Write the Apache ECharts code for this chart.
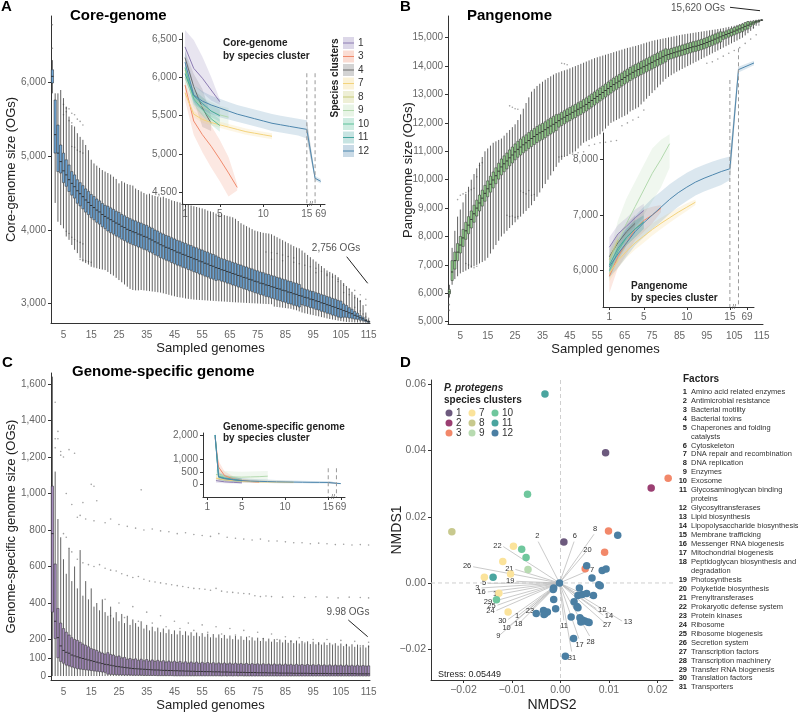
<!DOCTYPE html>
<html>
<head>
<meta charset="utf-8">
<title>P. protegens pangenome</title>
<script src="https://cdn.jsdelivr.net/npm/echarts@6/dist/echarts.min.js"></script>
<style>
  html, body { margin: 0; padding: 0; background: #fff; }
  #chart { width: 798px; height: 713px; }
</style>
</head>
<body>
<div id="chart"></div>
<script>
// ---------- categories ----------
const genomes = [];
for (let g = 1; g <= 115; g++) genomes.push(String(g));

// ---------- A: core-genome boxes (genomes 1..115) ----------
const medA = [
  6080,5290,5040,4925,4800,4745,4680,4630,4585,4530,
  4490,4450,4405,4372,4330,4302,4268,4243,4208,4182,
  4160,4138,4117,4093,4076,4049,4031,4008,3992,3974,
  3962,3943,3931,3912,3901,3878,3862,3838,3822,3799,
  3783,3764,3752,3733,3717,3698,3687,3668,3657,3638,
  3627,3608,3597,3578,3567,3548,3537,3518,3507,3488,
  3477,3460,3451,3434,3425,3408,3399,3382,3373,3356,
  3347,3330,3321,3304,3295,3278,3270,3254,3246,3230,
  3222,3206,3198,3182,3174,3158,3150,3134,3126,3110,
  3102,3086,3078,3062,3054,3038,3029,3012,3003,2986,
  2977,2960,2951,2934,2924,2906,2895,2876,2864,2843,
  2830,2808,2794,2772,2756];
const q1A = [
  5990,5040,4790,4770,4640,4590,4520,4470,4430,4360,
  4325,4285,4240,4207,4165,4137,4103,4078,4043,4017,
  3985,3963,3942,3918,3901,3874,3856,3833,3817,3799,
  3787,3768,3756,3737,3726,3703,3687,3663,3647,3624,
  3608,3589,3577,3558,3542,3523,3512,3493,3482,3463,
  3452,3433,3422,3403,3392,3373,3362,3343,3332,3313,
  3322,3305,3296,3279,3270,3253,3244,3227,3218,3201,
  3192,3175,3166,3149,3140,3123,3115,3099,3091,3075,
  3067,3051,3043,3027,3019,3003,2995,2979,2971,2955,
  2987,2971,2963,2947,2939,2923,2914,2897,2888,2871,
  2862,2845,2836,2819,2809,2816,2815,2806,2802,2791,
  2788,2776,2770,2756,2746];
const q3A = [
  6170,5760,5420,5150,5040,4950,4880,4790,4745,4680,
  4640,4600,4555,4522,4480,4452,4418,4393,4358,4332,
  4320,4298,4277,4253,4236,4209,4191,4168,4152,4134,
  4122,4103,4091,4072,4061,4038,4022,3998,3982,3959,
  3943,3924,3912,3893,3877,3858,3847,3828,3817,3798,
  3787,3768,3757,3738,3727,3708,3697,3678,3667,3648,
  3627,3610,3601,3584,3575,3558,3549,3532,3523,3506,
  3497,3480,3471,3454,3445,3428,3420,3404,3396,3380,
  3372,3356,3348,3332,3324,3308,3300,3284,3276,3260,
  3212,3196,3188,3172,3164,3148,3139,3122,3113,3096,
  3087,3070,3061,3044,3034,2996,2975,2946,2924,2893,
  2870,2838,2816,2786,2764];
const loA = [
  5850,4365,4110,4065,4020,3910,3865,3795,3730,3685,
  3620,3570,3550,3530,3500,3490,3480,3470,3462,3455,
  3430,3400,3380,3350,3320,3290,3260,3230,3200,3185,
  3180,3180,3185,3180,3175,3170,3165,3160,3155,3150,
  3140,3130,3120,3110,3100,3090,3085,3080,3070,3065,
  3060,3055,3052,3050,3048,3045,3042,3040,3038,3035,
  3032,3030,3028,3025,3022,3020,3018,3016,3014,3012,
  3010,3008,3006,3004,3002,3000,2998,2996,2994,2992,
  2960,2955,2950,2945,2940,2935,2930,2920,2910,2895,
  2880,2870,2862,2852,2845,2836,2828,2818,2810,2800,
  2792,2785,2778,2770,2764,2758,2752,2750,2748,2746,
  2745,2744,2743,2742,2741];
const hiA = [
  6300,5850,5850,5895,5785,5670,5535,5420,5400,5310,
  5260,5220,5150,5080,4950,4900,4870,4840,4810,4790,
  4770,4750,4720,4690,4630,4660,4640,4620,4610,4600,
  4560,4540,4520,4500,4480,4490,4470,4460,4450,4440,
  4450,4430,4420,4400,4390,4380,4370,4360,4350,4340,
  4330,4320,4310,4300,4290,4280,4260,4250,4240,4220,
  4220,4210,4200,4190,4180,4170,4150,4120,4090,4070,
  4050,4030,4010,3990,3980,3970,3960,3955,3950,3940,
  3920,3900,3880,3860,3840,3820,3800,3780,3760,3750,
  3720,3690,3660,3630,3600,3570,3540,3510,3480,3450,
  3430,3410,3390,3360,3320,3280,3240,3200,3160,3120,
  3080,3050,2980,2880,2790];
const outA = [
  [1,6780],[1,6460],[5,5700],[5,5560],[6,5650],[6,5600],[7,5640],[7,5480],[8,5580],[8,5450],
  [9,5560],[10,5500],[11,5470],[12,5420],[8,5130],[9,5120],[10,5080],[11,5060],[12,5040],
  [6,3980],[7,3950],[8,3900],[9,3870],[10,3850],[11,3830],[12,3810],[11,3600],[12,3590],
  [13,3580],[14,3570],[15,3560],[78,3700],[80,3690],[82,3680],[84,3660],[86,3640],[88,3620],
  [80,3600],[84,3580],[88,3560],[90,3540],[92,3520],[94,3500],[96,3480],[98,3440],[100,3400],
  [102,3360],[104,3330],[96,3420],[100,3380],[104,3300],[106,3250],[108,3200],[110,3180],
  [112,3120],[114,3060],[106,3150],[108,3120],[110,3080],[112,3030],[114,2980],[110,2950],
  [112,2900],[113,2860],[114,2820],[115,2800]];

// ---------- B: pangenome boxes ----------
const medB = [
  6050,6750,7150,7450,7700,7950,8200,8400,8600,8800,
  9000,9180,9350,9520,9680,9840,9990,10140,10300,10450,
  10560,10660,10770,10870,10980,11070,11150,11230,11300,11380,
  11450,11520,11590,11650,11700,11760,11830,11890,11950,12010,
  12080,12140,12200,12260,12310,12370,12420,12480,12530,12590,
  12650,12720,12790,12860,12930,13000,13070,13140,13210,13280,
  13350,13410,13470,13530,13600,13660,13720,13780,13830,13880,
  13930,13980,14030,14080,14130,14180,14230,14280,14330,14380,
  14410,14440,14470,14500,14530,14560,14590,14620,14650,14680,
  14700,14730,14760,14790,14830,14870,14910,14950,14990,15030,
  15070,15110,15150,15190,15230,15270,15310,15350,15400,15440,
  15480,15520,15560,15590,15620];
const q1B = [
  5980,6450,6850,7150,7420,7650,7900,8100,8300,8500,
  8720,8900,9070,9240,9400,9560,9710,9860,10020,10170,
  10280,10380,10490,10590,10700,10790,10870,10950,11020,11100,
  11170,11240,11310,11370,11420,11480,11550,11610,11670,11730,
  11850,11910,11970,12030,12080,12140,12190,12250,12300,12360,
  12420,12490,12560,12630,12700,12770,12840,12910,12980,13050,
  13120,13180,13240,13300,13370,13430,13490,13550,13600,13650,
  13700,13750,13800,13850,13900,13950,14000,14050,14100,14150,
  14230,14260,14290,14320,14350,14380,14410,14440,14470,14500,
  14520,14550,14580,14610,14650,14690,14730,14770,14810,14850,
  14940,14980,15020,15060,15100,15140,15180,15220,15270,15310,
  15400,15460,15520,15565,15610];
const q3B = [
  6130,7150,7450,7750,8000,8250,8500,8700,8900,9100,
  9280,9460,9630,9800,9960,10120,10270,10420,10580,10730,
  10840,10940,11050,11150,11260,11350,11430,11510,11580,11660,
  11730,11800,11870,11930,11980,12040,12110,12170,12230,12290,
  12310,12370,12430,12490,12540,12600,12650,12710,12760,12820,
  12880,12950,13020,13090,13160,13230,13300,13370,13440,13510,
  13580,13640,13700,13760,13830,13890,13950,14010,14060,14110,
  14160,14210,14260,14310,14360,14410,14460,14510,14560,14610,
  14590,14620,14650,14680,14710,14740,14770,14800,14830,14860,
  14880,14910,14940,14970,15010,15050,15090,15130,15170,15210,
  15200,15240,15280,15320,15360,15400,15440,15480,15530,15570,
  15560,15580,15600,15615,15630];
const loB = [
  5850,6300,6500,6600,6700,6750,6800,6850,6900,6950,
  7000,7050,7100,7150,7250,7400,7550,7700,7850,8000,
  8100,8200,8300,8400,8500,8600,8700,8800,8900,9000,
  9100,9250,9400,9550,9700,9850,10000,10150,10300,10450,
  10600,10700,10800,10850,10900,10950,11000,11100,11200,11300,
  11350,11400,11450,11500,11550,11600,11700,11800,11900,12000,
  12050,12100,12150,12200,12250,12300,12400,12450,12500,12550,
  12650,12750,12850,12950,13050,13150,13250,13350,13450,13550,
  13620,13680,13740,13800,13850,13900,13950,14000,14050,14100,
  14150,14200,14250,14300,14350,14400,14450,14500,14550,14600,
  14650,14700,14750,14800,14850,14900,14950,15000,15080,15160,
  15240,15320,15420,15500,15590];
const hiB = [
  6300,7600,8200,8700,8950,9200,9500,9750,10000,10200,
  10400,10600,10800,11000,11100,11200,11300,11350,11400,11450,
  11550,11650,11750,11850,11950,12100,12300,12500,12700,12900,
  13100,13200,13300,13380,13450,13520,13580,13640,13700,13750,
  13780,13820,13850,13880,13920,13960,14000,14040,14080,14120,
  14160,14200,14240,14280,14310,14340,14370,14400,14430,14460,
  14490,14520,14550,14580,14610,14640,14660,14690,14710,14740,
  14770,14800,14830,14860,14890,14910,14930,14950,14970,14990,
  15010,15030,15050,15070,15090,15110,15125,15140,15155,15170,
  15185,15200,15215,15230,15245,15260,15275,15290,15305,15320,
  15340,15360,15380,15400,15420,15450,15480,15510,15550,15580,
  15600,15615,15630,15640,15650];
const outB = [
  [1,5600],[1,5400],[4,9300],[5,9450],[6,9500],[7,9550],[8,9600],[9,9650],[10,9700],
  [11,10100],[12,10500],[13,10600],[7,7050],[8,7000],[9,6950],[10,6900],[11,6950],
  [22,8750],[23,8700],[24,8720],[25,8680],[26,8700],[27,9600],[28,9550],[29,9500],[30,9620],
  [31,9450],[32,9480],[23,12600],[24,12550],[25,12500],[26,12480],[41,10800],[42,10820],
  [44,10850],[46,10900],[48,10950],[50,10980],[52,11200],[54,11250],[56,11300],[58,11320],
  [60,11350],[62,11380],[64,11900],[66,12000],[68,12100],[70,12200],[72,12450],[42,14100],
  [43,14080],[44,14050],[95,14100],[97,14150],[99,14250],[101,14350],[103,14450],[105,14550],
  [107,14650],[109,14800],[111,14950],[113,15100],[100,15000],[104,15100],[108,15200],
  [112,15350],[114,15450]];

// ---------- C: genome-specific boxes ----------
const medC = [
  780,300,210,165,140,130,125,115,110,105,
  100,96,92,88,84,80,76,72,68,64,
  62,59,56,53,51,49,47,45,43,41,
  40,39,38,37,36,35,34,33,33,32,
  31,31,30,30,29,29,28,28,27,27,
  26,26,25,25,25,24,24,24,23,23,
  23,22,22,22,21,21,21,20,20,20,
  19,19,19,19,18,18,18,18,17,17,
  17,17,16,16,16,16,16,15,15,15,
  15,15,15,14,14,14,14,14,14,14,
  13,13,13,13,13,13,13,13,13,13,
  12,12,12,12,12];
const q1C = [
  350,205,100,80,70,60,55,50,45,40,
  38,36,34,32,30,28,26,24,22,20,
  10,9,8,7,6,6,5,5,5,4,
  4,4,4,3,3,3,3,3,2,2,
  2,2,2,2,1,1,1,1,1,1,
  1,1,1,1,1,1,1,1,1,1,
  1,0,1,0,1,0,1,0,1,0,
  0,0,0,0,0,0,0,0,0,0,
  0,0,0,0,0,0,0,0,0,0,
  0,0,0,0,0,0,0,0,0,0,
  0,0,0,0,0,0,0,0,0,0,
  0,0,0,0,0];
const q3C = [
  1040,614,370,290,260,240,225,210,200,195,
  185,175,168,160,150,145,140,132,126,120,
  128,118,115,106,110,100,102,92,96,90,
  94,86,92,84,90,82,88,80,86,79,
  84,77,82,76,81,74,80,72,78,71,
  77,70,76,69,75,68,74,68,73,67,
  72,67,71,66,71,65,70,65,69,64,
  69,63,68,63,67,62,67,62,66,61,
  66,61,65,60,65,60,64,59,64,59,
  63,58,63,58,62,57,62,57,61,56,
  61,56,60,56,60,55,60,55,59,54,
  59,54,58,54,56];
const loC = [
  0,0,0,0,0,0,0,0,0,0, 0,0,0,0,0,0,0,0,0,0,
  0,0,0,0,0,0,0,0,0,0, 0,0,0,0,0,0,0,0,0,0,
  0,0,0,0,0,0,0,0,0,0, 0,0,0,0,0,0,0,0,0,0,
  0,0,0,0,0,0,0,0,0,0, 0,0,0,0,0,0,0,0,0,0,
  0,0,0,0,0,0,0,0,0,0, 0,0,0,0,0,0,0,0,0,0,
  0,0,0,0,0,0,0,0,0,0, 0,0,0,0,0];
const hiC = [
  1640,1120,860,760,640,560,700,520,600,480,
  690,440,520,420,480,380,400,360,420,350,
  330,380,320,350,300,340,290,330,280,310,
  290,270,300,260,280,250,270,245,265,240,
  260,235,255,230,250,228,248,225,245,222,
  240,220,238,218,235,215,232,212,230,210,
  228,208,225,205,222,202,220,200,218,198,
  215,196,212,194,210,192,208,190,205,188,
  202,186,200,184,198,182,196,180,194,178,
  192,176,190,175,188,174,186,172,184,170,
  182,168,180,166,178,164,176,162,174,160,
  172,158,170,156,168];
const outC = [
  [2,1500],[2,1300],[2,1250],[3,1340],[3,1300],[4,1210],[4,1230],[5,1200],[6,1000],[7,1240],
  [8,940],[9,1220],[12,950],[15,1050],[16,1040],[17,960],[33,1020],[11,880],
  [10,870],[13,860],[16,850],[20,840],[22,860],[25,830],[28,820],[31,810],[34,800],[37,805],
  [40,795],[43,790],[46,780],[49,785],[52,775],[55,770],[58,765],[61,780],[64,760],[67,755],
  [70,750],[73,745],[76,750],[79,740],[82,740],[85,735],[88,730],[91,730],[94,725],[97,728],
  [100,725],[103,720],[106,722],[109,718],[112,720],[115,718],
  [5,780],[6,760],[7,700],[8,680],[10,640],[12,620],[14,610],[16,600],[18,610],[20,590],
  [22,580],[24,575],[26,560],[28,550],[30,540],[32,545],[34,530],[36,520],[38,515],[40,510],
  [42,505],[44,500],[46,495],[48,490],[50,485],[52,480],[54,478],[56,475],[58,470],[60,480],
  [62,465],[64,460],[66,458],[68,455],[70,452],[72,450],[74,440],[76,435],[78,438],[80,435],
  [84,432],[88,436],[92,430],[96,434],[100,432],[104,428],[108,432],[112,430],[115,428],
  [20,420],[25,400],[30,380],[35,350],[40,330],[45,300],[50,290],[55,280],[60,270],[65,260],
  [70,250],[75,240],[80,230],[85,215],[90,210],[95,200],[100,200],[105,195],[110,190],[115,185],
  [22,330],[27,320],[32,300],[37,290],[42,270],[47,260],[52,250],[57,240],[62,230],[67,225],
  [72,215],[77,205],[82,200],[87,190],[92,180],[97,175],[102,170],[107,168],[112,165],[115,160]];

// ---------- insets: [x, mean, low, high]; x beyond the break = 69 genomes ----------
const coreC1 = [[1,6400,6150,6620],[2,6120,5900,6490],[3,5990,5800,6270],[4,5836,5700,6010],[5,5683,5640,5710]];
const coreC3 = [[1,5900,5700,5950],[2,5430,5250,5650],[3,5250,5020,5520],[4,5100,4820,5370],[5,4930,4640,5180],[6,4750,4440,4960],[7,4560,4520,4600]];
const coreC4 = [[1,6260,6150,6350],[2,5880,5700,6050],[3,5600,5350,5850],[4,5400,5300,5500]];
const coreC7 = [[1,5800,5760,5840],[2,5520,5480,5560],[3,5450,5410,5490],[4,5410,5370,5450],[5,5380,5340,5420],[6,5350,5310,5390],[7,5320,5280,5360],[8,5290,5250,5330],[9,5270,5230,5310],[10,5250,5210,5290],[11,5230,5190,5270]];
const coreC8 = [[1,6100,6040,6160],[2,5750,5690,5810]];
const coreC9 = [[1,6000,5880,6120],[2,5720,5600,5840],[3,5620,5500,5740],[4,5560,5440,5680],[5,5510,5390,5630],[6,5480,5360,5600]];
const coreC10 = [[1,6130,6050,6210],[2,5720,5640,5800],[3,5580,5500,5660],[4,5460,5380,5540],[5,5370,5290,5450]];
const coreC11 = [[1,6050,5970,6130],[2,5760,5680,5840],[3,5660,5580,5740],[4,5560,5480,5640],[5,5500,5420,5580]];
const coreC12 = [[1,6200,6000,6350],[2,5770,5650,5900],[3,5690,5570,5820],[4,5640,5520,5760],[5,5600,5480,5720],[6,5560,5450,5680],[7,5520,5420,5640],[8,5490,5390,5610],[9,5460,5360,5580],[10,5430,5330,5550],[11,5400,5300,5520],[12,5380,5280,5500],[13,5360,5260,5480],[14,5340,5240,5460],[15,5320,5200,5440]];
const coreTail = [[15.95,4680,4650,4710],[16.6,4640,4610,4670]];
const coreBreak = [[15,5320,5200,5440],[15.95,4680,4650,4710]];

const panC1 = [[1,6420,6250,6600],[2,6660,6500,6820],[3,6800,6650,6950],[4,6950,6800,7100],[5,7080,6950,7200]];
const panC3 = [[1,5900,5600,6100],[2,6250,6050,6450],[3,6500,6300,6700],[4,6750,6550,6950],[5,6900,6700,7100],[6,7000,6850,7150],[7,7120,7050,7180]];
const panC4 = [[1,6250,6100,6400],[2,6500,6350,6650],[3,6700,6550,6850],[4,6850,6700,7000]];
const panC7 = [[1,5950,5800,6100],[2,6180,6050,6300],[3,6350,6230,6470],[4,6500,6380,6620],[5,6620,6500,6740],[6,6740,6630,6850],[7,6850,6750,6950],[8,6950,6860,7040],[9,7050,6970,7130],[10,7140,7070,7210],[11,7230,7180,7280]];
const panC8 = [[1,6200,6100,6300],[2,6550,6450,6650]];
const panC9 = [[1,6100,5900,6300],[2,6500,6150,6900],[3,6850,6450,7300],[4,7150,6750,7600],[5,7450,7000,7900],[6,7750,7250,8200],[7,8000,7500,8350],[8,8280,7850,8450]];
const panC10 = [[1,6000,5850,6150],[2,6350,6200,6500],[3,6600,6450,6750],[4,6750,6600,6900],[5,6880,6750,7000]];
const panC11 = [[1,6100,5950,6250],[2,6400,6250,6550],[3,6600,6450,6750],[4,6750,6600,6900],[5,6870,6750,6990]];
const panC12 = [[1,6070,5880,6250],[2,6300,6050,6550],[3,6500,6250,6780],[4,6700,6450,6980],[5,6860,6600,7150],[6,7000,6750,7300],[7,7140,6880,7420],[8,7280,7020,7550],[9,7400,7150,7660],[10,7500,7250,7760],[11,7590,7350,7840],[12,7660,7420,7900],[13,7720,7480,7960],[14,7780,7540,8010],[15,7830,7630,8050]];
const panTail = [[16.0,9610,9560,9660],[17.8,9730,9690,9770]];
const panBreak = [[15,7830,7630,8050],[16.0,9610,9480,9740]];

const specC1 = [[2,150,60,260],[3,100,40,180],[4,80,30,150],[5,60,20,120]];
const specC3 = [[1.9,1900,1800,2000],[2.3,700,450,950],[3,350,200,520],[4,220,120,330],[5,150,80,230],[6,110,60,170],[7,90,50,140]];
const specC7 = [[2,250,150,380],[3,180,100,280],[4,150,80,240],[5,130,70,210],[6,115,60,190],[7,100,50,170],[8,95,50,160],[9,90,50,150],[10,85,45,140],[11,80,40,130]];
const specC9 = [[2,400,200,600],[3,330,150,550],[4,300,130,520],[5,290,120,510],[6,300,120,520],[7,310,130,530],[8,330,150,540]];
const specC10 = [[1.9,2000,1900,2080],[2.3,330,200,500],[3,260,150,400],[4,200,110,320],[5,140,80,230]];
const specC11 = [[1.9,2000,1900,2080],[2.3,300,180,450],[3,240,140,360],[4,190,100,300],[5,150,80,240]];
const specC12 = [[1.9,2000,1900,2080],[2.3,300,150,450],[3,230,120,360],[4,180,90,300],[5,150,70,260],[6,130,60,230],[7,120,55,210],[8,110,50,190],[9,100,45,170],[10,95,40,160],[11,90,40,150],[12,85,40,140],[13,80,35,130],[14,78,35,125],[15,75,30,120]];
const specTail = [[15.95,40,10,70],[16.45,30,5,55]];
const specBreak = [[15,75,30,120],[15.95,40,10,70]];

// ---------- D: NMDS ----------
const nmdsPoints = [
  [0.0093,0.0393,'1'],[0.0007,0.0124,'1'],
  [0.0187,0.0287,'2'],
  [0.0222,0.0316,'3'],[0.0099,0.0157,'3'],[0.0091,0.0093,'3'],[0.0051,0.0043,'3'],
  [-0.0097,0.0111,'7'],[-0.0119,0.0065,'7'],[-0.0103,0.0027,'7'],[-0.0157,0.0017,'7'],[-0.0127,-0.0031,'7'],[-0.0108,-0.0088,'7'],
  [-0.0224,0.0155,'8'],
  [-0.0067,0.0041,'9'],
  [-0.0068,0.0268,'10'],[-0.0080,0.0102,'10'],[-0.0071,0.0077,'10'],[-0.0132,-0.0051,'10'],
  [-0.0032,0.0571,'11'],[-0.0139,0.0017,'11'],
  [0.0118,0.0144,'12'],[0.0054,0.0052,'12'],[0.0086,0.0038,'12'],[0.0094,0.0042,'12'],[0.0065,0.0015,'12'],
  [-0.0002,0.0,'12'],[0.0079,-0.0005,'12'],[0.0082,-0.0008,'12'],[-0.0014,-0.0015,'12'],[-0.0015,-0.0020,'12'],
  [0.0039,-0.0015,'12'],[0.0036,-0.0038,'12'],[0.0045,-0.0035,'12'],[0.0054,-0.0032,'12'],[0.0068,-0.0038,'12'],
  [-0.0014,-0.0050,'12'],[0.0028,-0.0057,'12'],[0.0034,-0.0071,'12'],[0.0036,-0.0075,'12'],[-0.0010,-0.0078,'12'],
  [-0.0035,-0.0083,'12'],[-0.0032,-0.0093,'12'],[-0.0027,-0.0088,'12'],[-0.0034,-0.0095,'12'],[-0.0050,-0.0092,'12'],
  [0.0022,-0.0103,'12'],[0.0040,-0.0105,'12'],[0.0045,-0.0112,'12'],[0.0050,-0.0115,'12'],[0.0056,-0.0118,'12'],
  [0.0059,-0.0119,'12'],[0.0042,-0.0118,'12'],[0.0027,-0.0168,'12'],[0.0010,-0.0221,'12']];
const vectorOrigin = [-0.0002, 0];
const vectorEnds = [
  ['1',-0.0086,-0.0097],['2',-0.0046,0.0125],['3',-0.0163,-0.0015],['4',0.0056,-0.0040],
  ['5',-0.0149,-0.0001],['6',0.0028,0.0125],['7',0.0057,0.0037],['8',0.0069,0.0147],
  ['9',-0.0125,-0.0157],['10',-0.0108,-0.0133],['11',0.0007,-0.0113],['12',0.0074,-0.0078],
  ['13',0.0127,-0.0115],['14',0.0088,-0.0097],['15',-0.0118,-0.0032],['16',-0.0150,-0.0027],
  ['17',0.0038,-0.0168],['18',-0.0084,-0.0120],['19',-0.0091,0.0005],['20',0.0053,0.0095],
  ['21',-0.0093,0.0041],['22',-0.0118,0.0110],['23',-0.0060,-0.0080],['24',-0.0132,-0.0083],
  ['25',-0.0130,-0.0067],['26',-0.0180,0.0049],['27',0.0093,-0.0123],['28',0.0060,-0.0160],
  ['29',-0.0137,-0.0055],['30',-0.0108,-0.0110],['31',0.0023,-0.0207]];
const factorNames = [
  'Amino acid related enzymes','Antimicrobial resistance','Bacterial motility','Bacterial toxins',
  'Chaperones and folding\ncatalysts','Cytoskeleton','DNA repair and recombination','DNA replication',
  'Enzymes','Exosome','Glycosaminoglycan binding\nproteins','Glycosyltransferases','Lipid biosynthesis',
  'Lipopolysaccharide biosynthesis','Membrane trafficking','Messenger RNA biogenesis',
  'Mitochondrial biogenesis','Peptidoglycan biosynthesis and\ndegradation','Photosynthesis',
  'Polyketide biosynthesis','Prenyltransferases','Prokaryotic defense system','Protein kinases',
  'Ribosome','Ribosome biogenesis','Secretion system','Transcription factors',
  'Transcription machinery','Transfer RNA biogenesis','Translation factors','Transporters'];

const clusterIds = ['1','2','3','7','8','9','10','11','12'];
const clusterColors = {
  '1':'#6d5a7e','2':'#9b3f72','3':'#f2886a','4':'#7a7a7a','7':'#fbe39b','8':'#c8c98e',
  '9':'#b8dbb1','10':'#6fc79d','11':'#4aa59f','12':'#4b7fa3'};
const insetLine = {
  '1':'#8c7cb3','3':'#f08a6c','4':'#6e6e6e','7':'#f3d37c','8':'#c6cb78',
  '9':'#b2d9ad','10':'#5cc09a','11':'#45a6a0','12':'#4d86ad'};

// ---------- helpers ----------
const FONT = '"Liberation Sans", Arial, Helvetica, sans-serif';
const AX = '#333';
const LBL = '#666';
const fmtK = v => Math.round(v).toLocaleString('en-US');
const fmtD = v => (v < 0 ? '\u2212' : '') + Math.abs(v).toFixed(2);

function catAxis(gi, name) {
  return {
    type: 'category', gridIndex: gi, data: genomes, boundaryGap: true,
    name: name, nameLocation: 'middle', nameGap: 19, nameMoveOverlap: false,
    nameTextStyle: { fontSize: 13, color: '#222' },
    axisLine: { onZero: false, lineStyle: { color: AX } },
    axisTick: { alignWithLabel: true, interval: (i) => (i + 1) % 5 === 0, length: 3, lineStyle: { color: AX } },
    axisLabel: { interval: (i) => (i + 1) % 10 === 5, fontSize: 10, color: LBL, margin: 7 },
    splitLine: { show: false }
  };
}
function valAxis(gi, min, max, ticks, fmt, name, gap, fs) {
  return {
    type: 'value', gridIndex: gi, min: min, max: max,
    name: name || '', nameLocation: 'middle', nameGap: gap || 30, nameMoveOverlap: false,
    nameTextStyle: { fontSize: 13, color: '#222' },
    axisLine: { show: true, onZero: false, lineStyle: { color: AX } },
    axisTick: { show: true, customValues: ticks, length: 3, lineStyle: { color: AX } },
    axisLabel: { customValues: ticks, formatter: fmt, fontSize: fs || 10, color: LBL, margin: 5 },
    splitLine: { show: false }
  };
}
function insetX(gi, min, max, pos69) {
  const t = [1, 5, 10, 15, pos69];
  return {
    type: 'value', gridIndex: gi, min: min, max: max,
    axisLine: { onZero: false, lineStyle: { color: AX } },
    axisTick: { customValues: t, length: 3, lineStyle: { color: AX } },
    axisLabel: { customValues: t, formatter: v => (v > 15.5 ? '69' : String(v)), fontSize: 10, color: LBL, margin: 5 },
    splitLine: { show: false }
  };
}
// box series drawn through the axes: [genome, low, q1, median, q3, high]
function boxSeries(ai, lo, q1, med, q3, hi, fill) {
  return {
    type: 'custom', xAxisIndex: ai, yAxisIndex: ai, silent: true, z: 2,
    data: med.map((m, i) => [genomes[i], lo[i], q1[i], m, q3[i], hi[i]]),
    encode: { x: 0, y: [1, 2, 3, 4, 5] },
    renderItem: (params, api) => {
      const x = api.value(0);
      const pLo = api.coord([x, api.value(1)]);
      const pQ1 = api.coord([x, api.value(2)]);
      const pMd = api.coord([x, api.value(3)]);
      const pQ3 = api.coord([x, api.value(4)]);
      const pHi = api.coord([x, api.value(5)]);
      const w = api.size([1, 0])[0] * 0.82;
      const cx = pMd[0];
      const wk = { stroke: '#3a3a3a', lineWidth: 0.8 };
      return { type: 'group', children: [
        { type: 'line', shape: { x1: cx, y1: pHi[1], x2: cx, y2: pQ3[1] }, style: wk },
        { type: 'line', shape: { x1: cx, y1: pQ1[1], x2: cx, y2: pLo[1] }, style: wk },
        { type: 'rect', shape: { x: cx - w / 2, y: pQ3[1], width: w, height: Math.max(0.6, pQ1[1] - pQ3[1]) },
          style: { fill: fill, stroke: '#222', lineWidth: 0.5 } },
        { type: 'line', shape: { x1: cx - w / 2, y1: pMd[1], x2: cx + w / 2, y2: pMd[1] }, style: { stroke: '#1a1a1a', lineWidth: 0.8 } }
      ] };
    }
  };
}
function bandSeries(ai, pts, color, opacity) {
  return {
    type: 'custom', xAxisIndex: ai, yAxisIndex: ai, silent: true, z: 3,
    data: [[pts[0][0], pts[0][1]]],
    renderItem: (params, api) => {
      const top = pts.map(p => api.coord([p[0], p[3]]));
      const bot = pts.slice().reverse().map(p => api.coord([p[0], p[2]]));
      return { type: 'polygon', shape: { points: top.concat(bot) }, style: { fill: color, opacity: opacity } };
    }
  };
}
function meanSeries(ai, pts, color) {
  return {
    type: 'line', xAxisIndex: ai, yAxisIndex: ai, data: pts.map(p => [p[0], p[1]]),
    showSymbol: false, symbol: 'none', clip: false, silent: true, z: 4,
    lineStyle: { color: color, width: 1 }
  };
}
function dashSeries(ai, segs) {
  return {
    type: 'custom', xAxisIndex: ai, yAxisIndex: ai, silent: true, z: 5,
    data: segs, encode: { x: 0, y: [1, 2] },
    renderItem: (params, api) => {
      const a = api.coord([api.value(0), api.value(1)]);
      const b = api.coord([api.value(0), api.value(2)]);
      return { type: 'line', shape: { x1: a[0], y1: a[1], x2: b[0], y2: b[1] },
        style: { stroke: '#9a9a9a', lineWidth: 1, lineDash: [4, 3] } };
    }
  };
}
function insetGroup(ai, list, tail, brk) {
  const out = [];
  list.forEach(([id, pts]) => {
    const data = id === '12' ? pts.concat(tail) : pts;
    out.push(bandSeries(ai, data, insetLine[id], 0.2));
  });
  out.push(bandSeries(ai, brk, '#bdbdbd', 0.6));
  list.forEach(([id, pts]) => {
    const data = id === '12' ? pts.concat(tail) : pts;
    out.push(meanSeries(ai, data, insetLine[id]));
  });
  return out;
}

// ---------- series ----------
const series = [];
const dotSeries = (ai, pts) => ({
  type: 'scatter', xAxisIndex: ai, yAxisIndex: ai, silent: true, z: 1,
  data: pts.map(p => [String(p[0]), p[1]]), symbolSize: 1.6, itemStyle: { color: '#8a8a8a' }
});

series.push(dotSeries(0, outA));
series.push(boxSeries(0, loA, q1A, medA, q3A, hiA, '#6fa6d6'));
series.push(dotSeries(2, outB));
series.push(boxSeries(2, loB, q1B, medB, q3B, hiB, '#93cf8c'));
series.push(dotSeries(4, outC));
series.push(boxSeries(4, loC, q1C, medC, q3C, hiC, '#a58bbd'));

// insets
series.push(...insetGroup(1, [['4', coreC4], ['1', coreC1], ['3', coreC3], ['9', coreC9], ['8', coreC8],
  ['7', coreC7], ['10', coreC10], ['11', coreC11], ['12', coreC12]], coreTail, coreBreak));
series.push(dashSeries(1, [[15, 6055, 4343], [15.95, 6055, 4343]]));
series.push(...insetGroup(3, [['9', panC9], ['4', panC4], ['1', panC1], ['3', panC3], ['8', panC8],
  ['7', panC7], ['10', panC10], ['11', panC11], ['12', panC12]], panTail, panBreak));
series.push(dashSeries(3, [[15, 9424, 5348], [16.0, 9993, 5348]]));
series.push(...insetGroup(5, [['9', specC9], ['1', specC1], ['3', specC3], ['7', specC7],
  ['10', specC10], ['11', specC11], ['12', specC12]], specTail, specBreak));
series.push(dashSeries(5, [[15, 650, -515], [15.95, 650, -515]]));

// D: zero reference lines
series.push({
  type: 'custom', xAxisIndex: 6, yAxisIndex: 6, silent: true, z: 1,
  data: [[0, 0]],
  renderItem: (params, api) => {
    const cs = params.coordSys;
    const o = api.coord([0, 0]);
    const st = { stroke: '#cfcfcf', lineWidth: 1, lineDash: [4, 3] };
    return { type: 'group', children: [
      { type: 'line', shape: { x1: o[0], y1: cs.y, x2: o[0], y2: cs.y + cs.height }, style: st },
      { type: 'line', shape: { x1: cs.x, y1: o[1], x2: cs.x + cs.width, y2: o[1] }, style: st }
    ] };
  }
});
series.push({
  type: 'lines', coordinateSystem: 'cartesian2d', xAxisIndex: 6, yAxisIndex: 6, silent: true, z: 2,
  data: vectorEnds.map(v => ({ name: v[0], coords: [vectorOrigin, [v[1], v[2]]] })),
  lineStyle: { color: '#bdbdbd', width: 0.8, opacity: 1, curveness: 0 },
  label: { show: true, position: 'end', formatter: '{b}', fontSize: 7.5, color: '#333', distance: 2 }
});
clusterIds.forEach(id => {
  series.push({
    type: 'scatter', xAxisIndex: 6, yAxisIndex: 6, silent: true, z: 4,
    data: nmdsPoints.filter(p => p[2] === id).map(p => [p[0], p[1]]),
    symbolSize: 7.5, itemStyle: { color: clusterColors[id], opacity: 1 }
  });
});

// ---------- graphics ----------
const G = [];
const txt = (x, y, text, o) => G.push({ type: 'text', x: x, y: y, z: 50, silent: true,
  style: Object.assign({ text: text, fontFamily: FONT, fontSize: 10, fill: '#222', align: 'left', verticalAlign: 'middle' }, (o || {})) });
const seg = (x1, y1, x2, y2, color) => G.push({ type: 'line', z: 50, silent: true,
  shape: { x1: x1, y1: y1, x2: x2, y2: y2 }, style: { stroke: color || '#222', lineWidth: 1 } });

// panel letters and titles
txt(1, 7, 'A', { fontSize: 15, fontWeight: 'bold', fill: '#000' });
txt(400, 7, 'B', { fontSize: 15, fontWeight: 'bold', fill: '#000' });
txt(2, 363, 'C', { fontSize: 15, fontWeight: 'bold', fill: '#000' });
txt(400, 363, 'D', { fontSize: 15, fontWeight: 'bold', fill: '#000' });
txt(70, 16, 'Core-genome', { fontSize: 15, fontWeight: 'bold', fill: '#000' });
txt(467, 16, 'Pangenome', { fontSize: 15, fontWeight: 'bold', fill: '#000' });
txt(72, 372, 'Genome-specific genome', { fontSize: 15, fontWeight: 'bold', fill: '#000' });

// inset titles
txt(223, 43, 'Core-genome', { fontWeight: 'bold' });
txt(223, 56, 'by species cluster', { fontWeight: 'bold' });
txt(631, 286, 'Pangenome', { fontWeight: 'bold' });
txt(631, 298, 'by species cluster', { fontWeight: 'bold' });
txt(223, 427, 'Genome-specific genome', { fontWeight: 'bold' });
txt(223, 438.5, 'by species cluster', { fontWeight: 'bold' });

// axis break marks
txt(311, 204, '//', { fontSize: 7, fill: '#555', align: 'center' });
txt(734, 307, '//', { fontSize: 7, fill: '#555', align: 'center' });
txt(333, 497, '//', { fontSize: 7, fill: '#555', align: 'center' });

// annotations
txt(336, 248, '2,756 OGs', { fill: '#555', align: 'center' });
seg(346.7, 256.7, 367.7, 283.3);
txt(698, 8, '15,620 OGs', { fill: '#555', align: 'center' });
seg(730, 7.3, 760, 10.7);
txt(348, 612, '9.98 OGs', { fill: '#555', align: 'center' });
seg(348.3, 620, 367.7, 636.7);

// species cluster legend (panel A inset)
G.push({ type: 'text', x: 335, y: 78, rotation: Math.PI / 2, z: 50, silent: true,
  style: { text: 'Species clusters', fontFamily: FONT, fontSize: 10, fontWeight: 'bold', fill: '#222', align: 'center', verticalAlign: 'middle' } });
['1','3','4','7','8','9','10','11','12'].forEach((id, i) => {
  const yc = 43 + i * 13.5;
  G.push({ type: 'rect', z: 50, silent: true, shape: { x: 343, y: yc - 6, width: 11, height: 12 },
    style: { fill: insetLine[id], opacity: 0.3 } });
  seg(343, yc, 354, yc, insetLine[id]);
  txt(358, yc, id, { fill: '#333' });
});

// NMDS legend
txt(444, 388, 'P. protegens', { fontWeight: 'bold', fontStyle: 'italic' });
txt(444, 400, 'species clusters', { fontWeight: 'bold' });
clusterIds.forEach((id, i) => {
  const col = Math.floor(i / 3), row = i % 3;
  const cx = 449 + col * 23, cy = 413 + row * 10;
  G.push({ type: 'circle', z: 50, silent: true, shape: { cx: cx, cy: cy, r: 3.5 }, style: { fill: clusterColors[id] } });
  txt(cx + 7, cy, id, { fill: '#333' });
});
txt(438, 675, 'Stress: 0.05449', { fontSize: 9, fill: '#222' });

// factors list
txt(683, 379, 'Factors', { fontWeight: 'bold' });
let line = 0;
factorNames.forEach((name, i) => {
  const y = 391.7 + line * 8.96;
  txt(687, y, String(i + 1), { fontSize: 7.5, fontWeight: 'bold', align: 'right', fill: '#222' });
  txt(691, y - 4.5, name, { fontSize: 7.5, fill: '#333', verticalAlign: 'top', lineHeight: 8.96 });
  line += name.split('\n').length;
});

// ---------- option ----------
const option = {
  animation: false,
  textStyle: { fontFamily: FONT },
  grid: [
    { left: 51, top: 16, width: 319, height: 307 },
    { left: 182, top: 33, width: 143, height: 171 },
    { left: 448, top: 16, width: 315, height: 308 },
    { left: 603, top: 133, width: 151, height: 174 },
    { left: 51, top: 373, width: 319, height: 309 },
    { left: 203, top: 433, width: 142, height: 64 },
    { left: 431, top: 380, width: 242, height: 303 }
  ],
  xAxis: [
    catAxis(0, 'Sampled genomes'),
    insetX(1, 0.655, 17.09, 16.6),
    catAxis(2, 'Sampled genomes'),
    insetX(3, 0.267, 17.8, 17.0),
    catAxis(4, 'Sampled genomes'),
    insetX(5, 0.5, 16.94, 16.45),
    Object.assign(valAxis(6, -0.0267, 0.0232, [-0.02, -0.01, 0, 0.01, 0.02], fmtD, 'NMDS2', 18, 10.5),
      { nameTextStyle: { fontSize: 14, color: '#222' } })
  ],
  yAxis: [
    valAxis(0, 2738, 6898, [3000, 4000, 5000, 6000], fmtK, 'Core-genome size (OGs)', 33),
    valAxis(1, 4343, 6582, [4500, 5000, 5500, 6000, 6500], fmtK),
    valAxis(2, 4919, 15764, [5000,6000,7000,8000,9000,10000,11000,12000,13000,14000,15000], fmtK, 'Pangenome size (OGs)', 33),
    valAxis(3, 5348, 8472, [6000, 7000, 8000], fmtK),
    valAxis(4, -21.8, 1660, [0, 100, 200, 400, 600, 800, 1000, 1200, 1400, 1600], fmtK, 'Genome-specific genome size (OGs)', 33),
    valAxis(5, -515, 2081, [0, 500, 1000, 2000], fmtK),
    Object.assign(valAxis(6, -0.0293, 0.0613, [-0.02, 0, 0.02, 0.04, 0.06], fmtD, 'NMDS1', 27, 10.5),
      { nameTextStyle: { fontSize: 14, color: '#222' } })
  ],
  series: series,
  graphic: { elements: G }
};

const chart = echarts.init(document.getElementById('chart'), null, { renderer: 'canvas' });
chart.setOption(option);
</script>
</body>
</html>
